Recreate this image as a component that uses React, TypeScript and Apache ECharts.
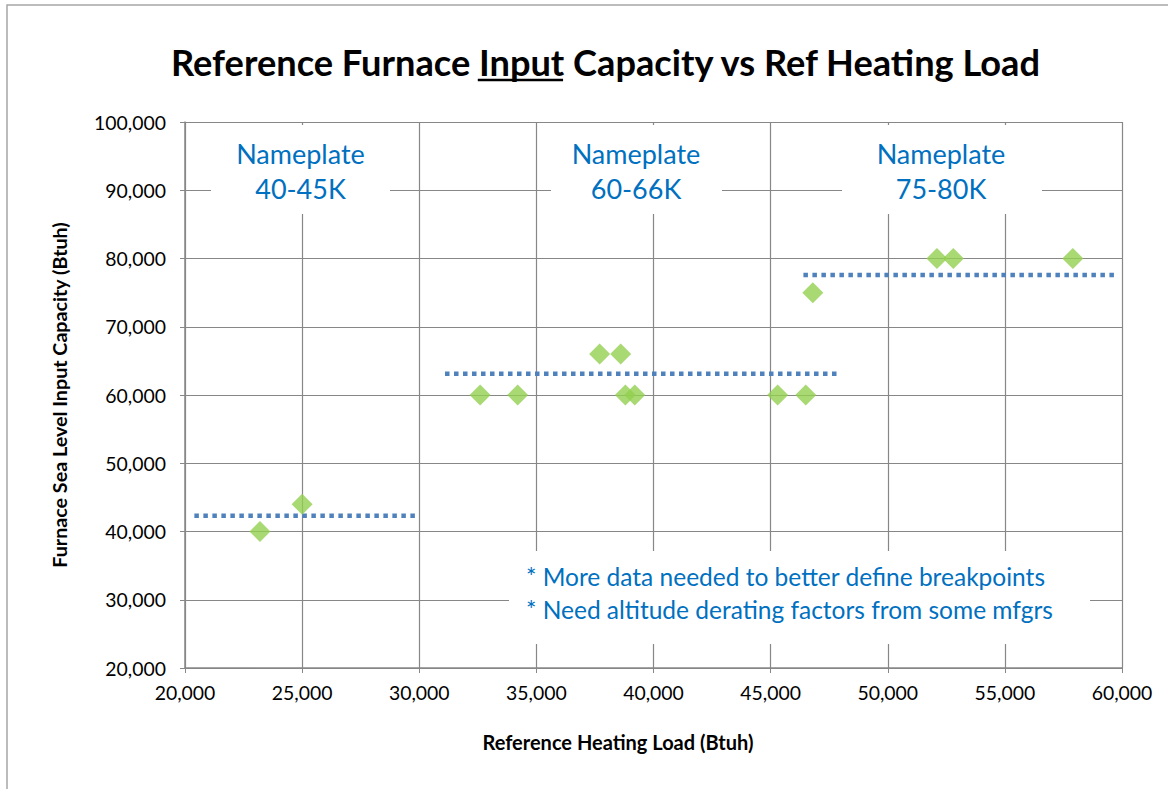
import React, { useEffect, useRef } from "react";
import * as echarts from "echarts";

const xLoad = [23200, 25000, 32600, 34200, 37700, 38600, 38800, 39200, 45300, 46500, 46800, 52100, 52800, 57900];
const yCap = [40000, 44000, 60000, 60000, 66000, 66000, 60000, 60000, 60000, 60000, 75000, 80000, 80000, 80000];

const tier1 = [[20400, 42300], [30000, 42300]];
const tier2 = [[31100, 63100], [47900, 63100]];
const tier3 = [[46400, 77600], [59800, 77600]];

const titlePre = "Reference Furnace ";
const titleMid = "Input";
const titlePost = " Capacity vs Ref Heating Load";
const xName = "Reference Heating Load (Btuh)";
const yName = "Furnace Sea Level Input Capacity (Btuh)";
const tierLabels = [
  ["Nameplate", "40-45K"],
  ["Nameplate", "60-66K"],
  ["Nameplate", "75-80K"],
];
const notes = [
  "* More data needed to better define breakpoints",
  "* Need altitude derating factors from some mfgrs",
];

const FAM = "Lato";
const FONT = "Lato, 'Open Sans', sans-serif";
const GRID = "#878787";
const BLUE_TXT = "#0070C0";

function measure(text: string, font: string): number {
  const c = document.createElement("canvas");
  const ctx = c.getContext("2d");
  if (!ctx) return text.length * 10;
  ctx.font = font;
  return ctx.measureText(text).width;
}

function fit(text: string, weight: string, target: number): number {
  const w = measure(text, `${weight} 20px ${FAM}`);
  return Math.round((20 * target / w) * 10) / 10;
}

const fmt = (v: number) => v.toLocaleString("en-US");

export default function App() {
  const ref = useRef<HTMLDivElement>(null);
  useEffect(() => {
    if (!ref.current) return;
    const chart = echarts.init(ref.current, null, { renderer: "svg" });

    const titleSize = fit(titlePre + titleMid + titlePost, "bold", 871);
    const titleFont = `bold ${titleSize}px ${FAM}`;
    const wPre = measure(titlePre, titleFont);
    const wMid = measure(titleMid, titleFont);
    const wAll = measure(titlePre + titleMid + titlePost, titleFont);
    const tcx = 605.5;
    const tLeft = tcx - wAll / 2;
    const ulY = 80;

    const plateSize = Math.min(fit("Nameplate", "normal", 135), 27);
    const noteSize = Math.min(fit(notes[0], "normal", 520), 25);
    const tickSize = Math.min(fit("100,000", "normal", 72), 20);
    const nameXSize = Math.min(fit(xName, "bold", 274), 20);
    const nameYSize = Math.min(fit(yName, "bold", 346), 20);

    const boxes = [
      { x: 211, y: 125, w: 179, h: 89, cx: 300.5 },
      { x: 551, y: 125, w: 171, h: 89, cx: 636 },
      { x: 842, y: 125, w: 200, h: 89, cx: 941 },
    ];

    const graphic: any[] = [
      {
        type: "rect",
        shape: { x: 7, y: 5, width: 1200, height: 830 },
        style: { fill: "none", stroke: "#A6A6A6", lineWidth: 1.5 },
        silent: true,
        z: -10,
      },
      {
        type: "text",
        x: tcx,
        y: 62,
        style: {
          text: titlePre + titleMid + titlePost,
          font: titleFont,
          fill: "#000",
          align: "center",
          verticalAlign: "middle",
        },
        z: 10,
      },
      {
        type: "line",
        shape: { x1: tLeft + wPre, y1: ulY, x2: tLeft + wPre + wMid, y2: ulY },
        style: { stroke: "#000", lineWidth: 2.5 },
        z: 10,
      },
    ];
    boxes.forEach((b, i) => {
      graphic.push({
        type: "rect",
        shape: { x: b.x, y: b.y, width: b.w, height: b.h },
        style: { fill: "#fff" },
        z: 5,
      });
      graphic.push({
        type: "text",
        x: b.cx,
        y: 153,
        style: { text: tierLabels[i][0], font: `${plateSize}px ${FONT}`, fill: BLUE_TXT, align: "center", verticalAlign: "middle" },
        z: 6,
      });
      graphic.push({
        type: "text",
        x: b.cx,
        y: 188,
        style: { text: tierLabels[i][1], font: `${plateSize}px ${FONT}`, fill: BLUE_TXT, align: "center", verticalAlign: "middle" },
        z: 6,
      });
    });
    graphic.push({
      type: "rect",
      shape: { x: 509, y: 551, width: 581, height: 93 },
      style: { fill: "#fff" },
      z: 5,
    });
    notes.forEach((n, i) => {
      graphic.push({
        type: "text",
        x: 526,
        y: 576 + i * 33,
        style: { text: n, font: `${noteSize}px ${FONT}`, fill: BLUE_TXT, align: "left", verticalAlign: "middle" },
        z: 6,
      });
    });

    const lineSeries = (data: number[][]) => ({
      type: "line",
      data,
      symbol: "none",
      lineStyle: { color: "#4F81BD", width: 4.5, type: [4.5, 4.5] },
      z: 3,
      silent: true,
    });

    chart.setOption({
      animation: false,
      backgroundColor: "#fff",
      textStyle: { fontFamily: FONT },
      grid: { left: 185, right: 46, top: 122, bottom: 121, containLabel: false },
      xAxis: {
        type: "value",
        min: 20000,
        max: 60000,
        interval: 5000,
        name: xName,
        nameLocation: "middle",
        nameGap: 64,
        nameTextStyle: {
          fontFamily: FONT,
          fontWeight: "bold",
          fontSize: nameXSize,
          color: "#000",
          padding: [0, 71, 0, 0],
        },
        axisLine: { show: true, lineStyle: { color: GRID, width: 1.5 } },
        axisTick: { show: true, length: 5, lineStyle: { color: GRID } },
        axisLabel: { formatter: fmt, color: "#000", fontSize: tickSize, fontFamily: FONT, margin: 15 },
        splitLine: { show: true, lineStyle: { color: GRID, width: 1.2 } },
      },
      yAxis: {
        type: "value",
        min: 20000,
        max: 100000,
        interval: 10000,
        name: yName,
        nameLocation: "middle",
        nameRotate: 90,
        nameGap: 116,
        nameTextStyle: { fontFamily: FONT, fontWeight: "bold", fontSize: nameYSize, color: "#000" },
        axisLine: { show: true, lineStyle: { color: GRID, width: 1.5 } },
        axisTick: { show: true, length: 5, lineStyle: { color: GRID } },
        axisLabel: { formatter: fmt, color: "#000", fontSize: tickSize, fontFamily: FONT, margin: 19 },
        splitLine: { show: true, lineStyle: { color: GRID, width: 1.2 } },
      },
      series: [
        lineSeries(tier1),
        lineSeries(tier2),
        lineSeries(tier3),
        {
          type: "scatter",
          data: xLoad.map((x, i) => [x, yCap[i]]),
          symbol: "diamond",
          symbolSize: 21,
          itemStyle: { color: "#92D050" },
          z: 4,
        },
      ],
      graphic,
    });
    return () => chart.dispose();
  }, []);
  return (
    <div
      ref={ref}
      style={{ position: "absolute", left: 0, top: 0, width: 1168, height: 789, background: "#fff" }}
    />
  );
}
